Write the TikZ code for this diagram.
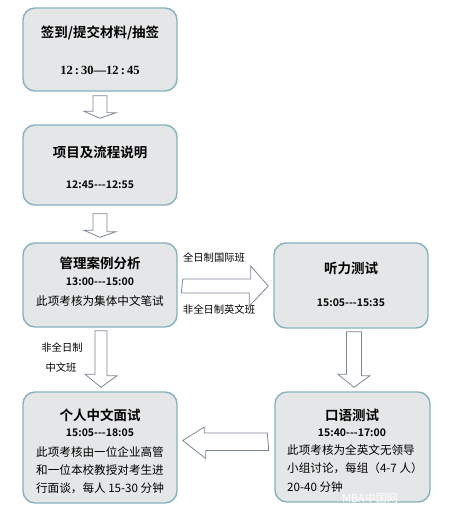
\documentclass[tikz,border=0pt]{standalone}
\usepackage{fontspec}
\newfontfamily\cjk{Noto Sans CJK SC}[BoldFont={Noto Sans CJK SC Bold}]
\newfontfamily\timesfont{Liberation Serif}
\usetikzlibrary{calc}
\definecolor{boxline}{HTML}{86B2BC}
\definecolor{boxfill}{HTML}{E4E6E8}
\definecolor{arrowline}{HTML}{7D8896}
\tikzset{
  stagebox/.style={draw=boxline, fill=boxfill, line width=1.4pt, rounded corners=12pt, minimum width=154pt},
  title/.style={font=\cjk\bfseries\fontsize{13.5}{16}\selectfont},
  timetext/.style={font=\cjk\bfseries\fontsize{10.5}{12}\selectfont},
  bodytext/.style={font=\cjk\fontsize{11.6}{14}\selectfont},
  sidetext/.style={font=\cjk\fontsize{10.3}{12}\selectfont},
  fatarrow/.style={draw=arrowline, fill=white, line width=0.8pt, line join=miter},
}
\begin{document}
\begin{tikzpicture}[x=1pt,y=-1pt]
  \useasboundingbox (0,0) rectangle (452,517);
  % boxes
  \node[stagebox, minimum height=83pt] (sign) at (100,49.5) {};
  \node[stagebox, minimum height=80pt] (intro) at (100,165) {};
  \node[stagebox, minimum height=84pt] (case) at (100,285) {};
  \node[stagebox, minimum height=85pt] (listen) at (351,285.5) {};
  \node[stagebox, minimum height=111pt] (interview) at (100,447.5) {};
  \node[stagebox, minimum width=155pt, minimum height=110pt] (oral) at (352.5,447) {};
  % texts
  \node[title] (signtitle) at (100,33) {签到/提交材料/抽签};
  \node[font=\timesfont\bfseries\fontsize{12.5}{14}\selectfont] (signtime) at (100,70) {12\,:\,30—12\,:\,45};
  \node[title] (introtitle) at (100,152) {项目及流程说明};
  \node[timetext] (introtime) at (100,185) {12:45---12:55};
  \node[title] (casetitle) at (100,263) {管理案例分析};
  \node[timetext] (casetime) at (100,282) {13:00---15:00};
  \node[bodytext] (casebody) at (100,301) {此项考核为集体中文笔试};
  \node[title] (listentitle) at (351,268) {听力测试};
  \node[timetext] (listentime) at (351,303) {15:05---15:35};
  \node[title] (interviewtitle) at (100,415) {个人中文面试};
  \node[timetext] (interviewtime) at (100,433) {15:05---18:05};
  \node[bodytext] (interviewa) at (100,452) {此项考核由一位企业高管};
  \node[bodytext] (interviewb) at (100,470) {和一位本校教授对考生进};
  \node[bodytext] (interviewc) at (100,488) {行面谈，每人 15-30 分钟};
  \node[title] (oraltitle) at (352,415) {口语测试};
  \node[timetext] (oraltime) at (352,433) {15:40---17:00};
  \node[bodytext, anchor=west, inner xsep=0pt] (orala) at (287,450) {此项考核为全英文无领导};
  \node[bodytext, anchor=west, inner xsep=0pt] (oralb) at (287,468) {小组讨论，每组（4-7 人）};
  \node[bodytext, anchor=west, inner xsep=0pt] (oralc) at (287,487) {20-40 分钟};
  \node[sidetext] (fulltime) at (214,258) {全日制国际班};
  \node[sidetext] (parten) at (219,310) {非全日制英文班};
  \node[sidetext] (partcna) at (62,348) {非全日制};
  \node[sidetext] (partcnb) at (61,368) {中文班};
  \node[font=\cjk\fontsize{11}{13}\selectfont, text=white] (mark) at (370,498) {MBA中国网};
  % arrows
  \draw[fatarrow] ($(sign.south)+(-7,4)$) -- ++(14,0) -- ++(0,17) -- ++(9,0)
    -- ($(intro.north)+(0,-6)$) -- ++(-16,-7) -- ++(9,0) -- cycle;
  \draw[fatarrow] ($(intro.south)+(-7,8)$) -- ++(14,0) -- ++(0,18) -- ++(9,0)
    -- ($(case.north)+(0,-5)$) -- ++(-16,-7) -- ++(9,0) -- cycle;
  \draw[fatarrow] ($(case.south)+(-5,3)$) -- ++(12,0) -- ++(0,45) -- ++(10,0)
    -- ($(interview.north)+(1,-4)$) -- ++(-16,-13) -- ++(10,0) -- cycle;
  \draw[fatarrow] ($(listen.south)+(-4.5,3)$) -- ++(15,0) -- ++(0,44) -- ++(8.5,0)
    -- ($(oral.north)+(1.5,-4)$) -- ++(-16,-13) -- ++(8.5,0) -- cycle;
  \draw[fatarrow] ($(case.east)+(5,-6)$) -- ++(68,0) -- ++(0,-13) -- ($(listen.west)+(-5,0.5)$)
    -- ++(-19,20) -- ++(0,-13) -- ++(-68,0) -- cycle;
  \draw[fatarrow] ($(oral.west)+(-7,-14)$) -- ++(-63,0) -- ++(0,-6) -- ($(interview.east)+(5,-7)$)
    -- ++(23,18) -- ++(0,-8) -- ++(63,0) -- cycle;
\end{tikzpicture}
\end{document}
